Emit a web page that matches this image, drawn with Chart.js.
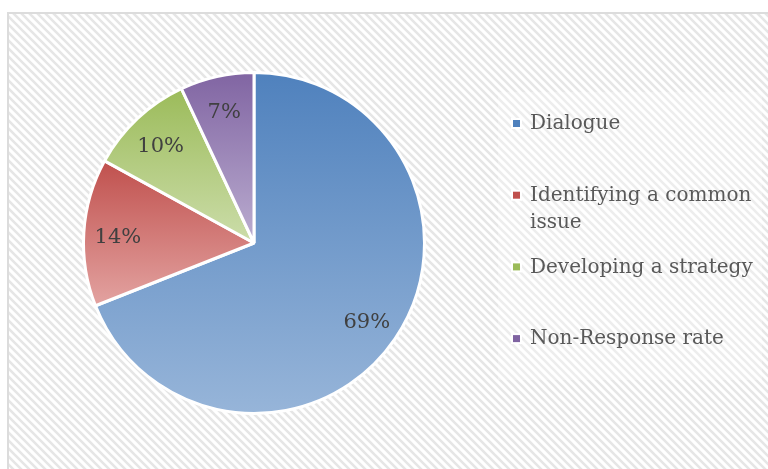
<!DOCTYPE html>
<html>
<head>
<meta charset="utf-8">
<script src="https://cdn.jsdelivr.net/npm/chart.js@4/dist/chart.umd.min.js"></script>
<style>
  html, body { margin: 0; padding: 0; background: #fff; }
  #wrap { width: 768px; height: 469px; position: relative; }
</style>
</head>
<body>
<div id="wrap"><canvas id="chart"></canvas></div>
<script>
// values
const categories = ['Dialogue', 'Identifying a common issue', 'Developing a strategy', 'Non-Response rate'];
const shares = [69, 14, 10, 7];
const darkColors = ['#4F81BD', '#C0504D', '#9BBB59', '#8064A2'];
const lightColors = ['#97B5D9', '#E3A3A1', '#CCDDAA', '#BBADD0'];

const serif = '"DejaVu Serif", "Liberation Serif", serif';

// vertical extent of one slice, used for its gradient
const sliceExtent = function (cx, cy, r, a0, a1) {
  let top = cy, bottom = cy;
  for (let i = 0; i <= 60; i++) {
    const a = a0 + (a1 - a0) * i / 60;
    const y = cy + Math.sin(a) * r;
    top = Math.min(top, y);
    bottom = Math.max(bottom, y);
  }
  return [top, bottom];
};

const sliceColor = function (context) {
  const chart = context.chart;
  const area = chart.chartArea;
  const i = context.dataIndex;
  if (!area) return darkColors[i];
  const total = shares.reduce((acc, v) => acc + v, 0);
  let before = 0;
  for (let k = 0; k < i; k++) before += shares[k];
  const a0 = -Math.PI / 2 + before / total * Math.PI * 2;
  const a1 = a0 + shares[i] / total * Math.PI * 2;
  const cx = (area.left + area.right) / 2;
  const cy = (area.top + area.bottom) / 2;
  const r = Math.min(area.width, area.height) / 2;
  const ext = sliceExtent(cx, cy, r, a0, a1);
  const g = chart.ctx.createLinearGradient(0, ext[0], 0, ext[1]);
  g.addColorStop(0, darkColors[i]);
  g.addColorStop(1, lightColors[i]);
  return g;
};

// hatched background and frame
const backdrop = {
  id: 'backdrop',
  beforeDraw(chart) {
    const ctx = chart.ctx;
    const w = chart.width, h = chart.height;
    ctx.save();
    ctx.fillStyle = '#ffffff';
    ctx.fillRect(0, 0, w, h);
    const tile = document.createElement('canvas');
    tile.width = 8; tile.height = 8;
    const t = tile.getContext('2d');
    t.fillStyle = '#ffffff';
    t.fillRect(0, 0, 8, 8);
    t.strokeStyle = '#e6e6e6';
    t.lineWidth = 2.6;
    t.beginPath();
    t.moveTo(-2, -2); t.lineTo(10, 10);
    t.moveTo(6, -2); t.lineTo(10, 2);
    t.moveTo(-2, 6); t.lineTo(2, 10);
    t.stroke();
    ctx.fillStyle = ctx.createPattern(tile, 'repeat');
    ctx.fillRect(8, 13, w - 8, h - 13);
    // slightly lighter area behind the legend
    ctx.fillStyle = 'rgba(255,255,255,0.3)';
    ctx.fillRect(498, 92, 264, 288);
    ctx.strokeStyle = '#dcdcdc';
    ctx.lineWidth = 2;
    ctx.beginPath();
    ctx.moveTo(8, h); ctx.lineTo(8, 13); ctx.lineTo(w, 13);
    ctx.stroke();
    ctx.restore();
  }
};

// percentage labels inside the slices
const sliceLabels = {
  id: 'sliceLabels',
  afterDatasetsDraw(chart) {
    const ctx = chart.ctx;
    const meta = chart.getDatasetMeta(0);
    ctx.save();
    ctx.font = '21px ' + serif;
    ctx.fillStyle = '#404040';
    ctx.textAlign = 'center';
    ctx.textBaseline = 'middle';
    meta.data.forEach((arc, i) => {
      const p = arc.getProps(['x', 'y', 'startAngle', 'endAngle', 'outerRadius'], true);
      const mid = (p.startAngle + p.endAngle) / 2;
      const d = p.outerRadius * 0.8;
      ctx.fillText(shares[i] + '%', p.x + Math.cos(mid) * d, p.y + Math.sin(mid) * d + 3);
    });
    ctx.restore();
  }
};

// legend on the right, wrapping long names
const sideLegend = {
  id: 'sideLegend',
  afterDraw(chart) {
    const ctx = chart.ctx;
    ctx.save();
    ctx.font = '20px ' + serif;
    ctx.textBaseline = 'middle';
    const maxW = 232;
    categories.forEach((name, i) => {
      const y = 124 + i * 71.7;
      ctx.fillStyle = '#ffffff';
      ctx.fillRect(511, y - 6, 11, 11);
      ctx.fillStyle = darkColors[i];
      ctx.fillRect(513, y - 4, 7, 7);
      const words = name.split(' ');
      const lines = [];
      let line = '';
      for (const word of words) {
        const test = line ? line + ' ' + word : word;
        if (ctx.measureText(test).width > maxW && line) {
          lines.push(line);
          line = word;
        } else {
          line = test;
        }
      }
      lines.push(line);
      ctx.fillStyle = '#595959';
      lines.forEach((l, k) => ctx.fillText(l, 530, y + k * 27));
    });
    ctx.restore();
  }
};

new Chart(document.getElementById('chart'), {
  type: 'pie',
  data: {
    labels: categories,
    datasets: [{
      data: shares,
      backgroundColor: sliceColor,
      borderColor: '#ffffff',
      borderWidth: 3
    }]
  },
  options: {
    responsive: true,
    maintainAspectRatio: false,
    animation: false,
    layout: { padding: { left: 82, right: 342, top: 71, bottom: 54 } },
    plugins: {
      legend: { display: false },
      tooltip: { enabled: false }
    }
  },
  plugins: [backdrop, sliceLabels, sideLegend]
});
</script>
</body>
</html>
